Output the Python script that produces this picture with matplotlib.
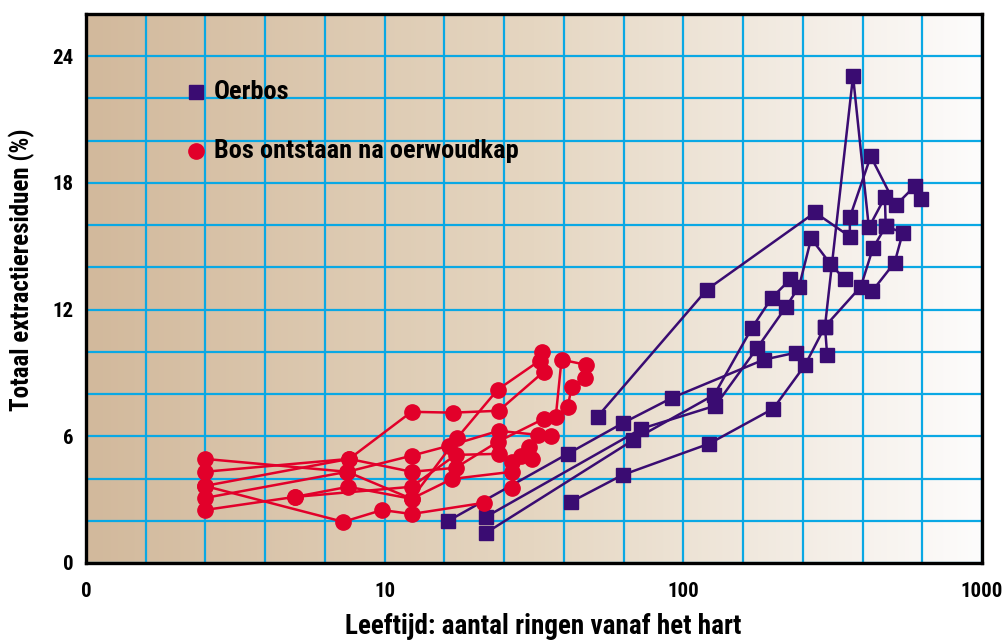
import numpy as np
import matplotlib
matplotlib.use("Agg")
import matplotlib.pyplot as plt
from matplotlib.colors import LinearSegmentedColormap
from matplotlib import font_manager

# ---------------- data ----------------
# Oerbos (primeval forest) trees: (age in rings, total extractive residue %)
oer_1_x = [16.3, 41.0, 63.0, 91.9, 186, 238]
oer_1_y = [1.99, 5.17, 6.64, 7.83, 9.63, 9.96]
oer_2_x = [21.8, 72.4, 128, 177, 221, 244, 268, 310, 347]
oer_2_y = [2.18, 6.36, 7.45, 10.20, 12.14, 13.09, 15.37, 14.18, 13.43]
oer_3_x = [21.8, 68.1, 127, 170, 198, 228]
oer_3_y = [1.42, 5.83, 7.97, 11.15, 12.57, 13.43]
oer_4_x = [42.0, 62.6, 122, 200, 256, 298, 370, 418, 473, 476, 543, 510, 428]
oer_4_y = [2.89, 4.17, 5.65, 7.31, 9.39, 11.20, 23.06, 15.89, 17.32, 15.94, 15.65, 14.23, 12.86]
oer_5_x = [51.6, 120, 276, 361, 361, 424, 514, 595, 623]
oer_5_y = [6.93, 12.95, 16.60, 15.46, 16.37, 19.26, 16.94, 17.84, 17.22]
oer_6_x = [303, 298, 393, 431, 476]
oer_6_y = [9.87, 11.20, 13.09, 14.90, 15.94]

# Bos ontstaan na oerwoudkap (second-growth forest) trees
bos_1_x = [2.5, 7.49, 12.3, 16.4, 24.1, 32.5, 36.0]
bos_1_y = [4.93, 4.32, 5.08, 5.55, 6.26, 6.07, 6.02]
bos_2_x = [2.5, 7.61, 12.3, 16.9, 24.1, 34.1, 33.6]
bos_2_y = [4.32, 4.93, 7.16, 7.12, 7.21, 9.06, 10.01]
bos_3_x = [2.5, 7.27, 9.81, 12.3, 21.5]
bos_3_y = [3.65, 1.95, 2.51, 2.32, 2.85]
bos_4_x = [2.5, 7.61, 12.3, 17.3, 23.9, 34.1, 37.4, 39.1, 47.1, 46.7, 42.3, 41.0]
bos_4_y = [3.65, 4.93, 4.32, 4.51, 5.74, 6.83, 6.93, 9.63, 9.39, 8.78, 8.35, 7.40]
bos_5_x = [2.5, 5.0, 12.3, 17.3, 24.1, 26.7, 31.1, 30.4]
bos_5_y = [2.51, 3.13, 3.61, 5.12, 5.17, 4.79, 4.93, 5.50]
bos_6_x = [2.5, 7.49, 12.3, 17.5, 23.9, 33.0]
bos_6_y = [3.08, 4.32, 3.04, 5.93, 8.21, 9.58]
bos_7_x = [5.0, 7.55, 12.3, 16.8, 26.7, 26.7, 28.6]
bos_7_y = [3.13, 3.61, 3.04, 3.98, 4.32, 3.56, 5.08]

oer_series = [(oer_1_x, oer_1_y), (oer_2_x, oer_2_y), (oer_3_x, oer_3_y),
              (oer_4_x, oer_4_y), (oer_5_x, oer_5_y), (oer_6_x, oer_6_y)]
bos_series = [(bos_1_x, bos_1_y), (bos_2_x, bos_2_y), (bos_3_x, bos_3_y),
              (bos_4_x, bos_4_y), (bos_5_x, bos_5_y), (bos_6_x, bos_6_y),
              (bos_7_x, bos_7_y)]

x_ticks = [1, 10, 100, 1000]
x_tick_labels = ["0", "10", "100", "1000"]
y_ticks = [0, 6, 12, 18, 24]

legend_labels = ["Oerbos", "Bos ontstaan na oerwoudkap"]
x_title = "Leeftijd: aantal ringen vanaf het hart"
y_title = "Totaal extractieresiduen (%)"

# ---------------- style ----------------
PURPLE = "#3a0c72"
RED = "#e2002a"
GRID = "#0aa8e4"

# pick a condensed bold face if one is installed
cands = []
for f in font_manager.fontManager.ttflist:
    nm = f.name.lower()
    st = str(f.stretch).lower()
    if ("narrow" in nm or "condensed" in nm or "condensed" in st) and f.weight in (700, "bold"):
        cands.append(f)
FONT_PROPS = None
for pref in ["liberation sans narrow", "roboto condensed", "dejavu sans", "open sans"]:
    for f in cands:
        if pref in f.name.lower():
            FONT_PROPS = f.fname
            break
    if FONT_PROPS:
        break
if FONT_PROPS is None and cands:
    FONT_PROPS = cands[0].fname


def fp(size):
    if FONT_PROPS:
        return font_manager.FontProperties(fname=FONT_PROPS, size=size)
    return font_manager.FontProperties(family="DejaVu Sans", weight="bold",
                                       stretch="condensed", size=size * 0.85)


fig = plt.figure(figsize=(10.02, 6.41), dpi=100)
ax = fig.add_axes([86 / 1002, 78 / 641, 896 / 1002, 549 / 641])
ax.set_xscale("log")
ax.set_xlim(1, 1000)
ax.set_ylim(0, 26)

# background gradient
cmap = LinearSegmentedColormap.from_list("bg", ["#d2b99c", "#e5d6c1", "#fdfcfc"])
grad = np.linspace(0, 1, 512).reshape(1, -1)
ax.imshow(grad, cmap=cmap, extent=[0, 1, 0, 1], transform=ax.transAxes,
          aspect="auto", zorder=0, interpolation="bilinear")

# grid
ax.set_xticks(x_ticks)
ax.set_xticklabels(x_tick_labels)
ax.set_xticks([10 ** (0.2 * k) for k in range(1, 15)], minor=True)
ax.set_xticklabels([], minor=True)
ax.set_yticks(y_ticks)
ax.set_yticks(list(range(2, 26, 2)), minor=True)
ax.grid(which="both", color=GRID, linewidth=1.6, zorder=1)
ax.set_axisbelow(True)
ax.tick_params(which="both", length=0)
ax.tick_params(axis="x", pad=14)
ax.tick_params(axis="y", pad=9)

for s in ax.spines.values():
    s.set_linewidth(2.4)
    s.set_color("black")
    s.set_zorder(5)

for xs, ys in oer_series:
    ax.plot(xs, ys, color=PURPLE, lw=1.8, marker="s", ms=10, mec=PURPLE,
            mfc=PURPLE, zorder=3)
for xs, ys in bos_series:
    ax.plot(xs, ys, color=RED, lw=1.8, marker="o", ms=11, mec=RED,
            mfc=RED, zorder=4)

for lab in ax.get_xticklabels() + ax.get_yticklabels():
    lab.set_fontproperties(fp(15))

# axis titles placed as in the reference
fig.text(543 / 1002, 7 / 641, x_title, fontproperties=fp(19.5),
         ha="center", va="baseline")
fig.text(22 / 1002, (641 - 270) / 641, y_title, fontproperties=fp(18),
         ha="center", va="center", rotation=90)

# in-plot legend
ax.plot([0.1228], [0.858], marker="s", ms=10, color=PURPLE,
        transform=ax.transAxes, zorder=6, clip_on=False)
ax.text(0.1429, 0.858, legend_labels[0], transform=ax.transAxes,
        fontproperties=fp(19), va="center", ha="left", zorder=6)
ax.plot([0.1228], [0.7505], marker="o", ms=11, color=RED,
        transform=ax.transAxes, zorder=6, clip_on=False)
ax.text(0.1429, 0.7505, legend_labels[1], transform=ax.transAxes,
        fontproperties=fp(19), va="center", ha="left", zorder=6)

fig.savefig("out.png", dpi=100)
